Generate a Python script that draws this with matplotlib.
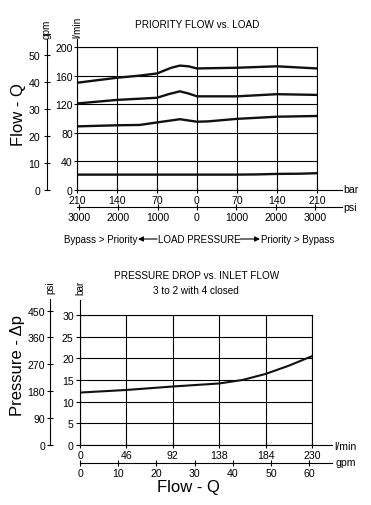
import matplotlib
matplotlib.use("Agg")
import matplotlib.pyplot as plt
from matplotlib.ticker import FuncFormatter

# ---------------- data ----------------
# Chart 1: priority flow (l/min) vs. load pressure (bar, signed: left = bypass>priority)
bar_ticks = [-210, -140, -70, 0, 70, 140, 210]
psi_ticks = [-3000, -2000, -1000, 0, 1000, 2000, 3000]
lpm_ticks1 = [0, 40, 80, 120, 160, 200]
gpm_ticks1 = [0, 10, 20, 30, 40, 50]

c1_x = [-210, -140, -100, -70, -45, -30, -15, 0, 70, 140, 210]
c1_y = [150, 157, 160, 163, 171, 174, 173, 170, 171, 173, 170]
c2_x = [-210, -140, -70, -50, -30, -15, 0, 70, 140, 210]
c2_y = [121, 126, 129, 134, 138, 135, 131, 131, 134, 133]
c3_x = [-210, -140, -100, -70, -30, 0, 20, 70, 140, 210]
c3_y = [89, 90.5, 91, 94.5, 99, 95.5, 96, 99.5, 102.5, 103.5]
c4_x = [-210, -70, 0, 70, 105, 140, 180, 210]
c4_y = [21.5, 21.5, 21.5, 21.5, 21.8, 22.5, 22.8, 23.5]

# Chart 2: pressure drop (bar) vs inlet flow (l/min)
lpm_ticks2 = [0, 46, 92, 138, 184, 230]
gpm_ticks2 = [0, 10, 20, 30, 40, 50, 60]
bar_ticks2 = [0, 5, 10, 15, 20, 25, 30]
psi_ticks2 = [0, 90, 180, 270, 360, 450]
pd_x = [0, 46, 92, 138, 161, 184, 207, 230]
pd_y = [12.1, 12.7, 13.5, 14.2, 15.0, 16.4, 18.3, 20.5]

BAR2PSI = 14.5038
GPM2LPM = 3.785

# ---------------- style ----------------
SANS = ["Liberation Sans", "DejaVu Sans"]
plt.rcParams["font.family"] = SANS
FS = 7.6
FT = 7.2

W, H = 371, 506
fig = plt.figure(figsize=(W / 100, H / 100), dpi=100)
fig.patch.set_facecolor("white")


def rect(l, t, r, b):
    return [l / W, 1 - b / H, (r - l) / W, (b - t) / H]


def ftext(x, y, s, **kw):
    kw.setdefault("fontsize", FS)
    fig.text(x / W, 1 - y / H, s, **kw)


absfmt = FuncFormatter(lambda v, p: f"{abs(v):g}")

# =============== Chart 1 ===============
L1, R1, T1, B1 = 77, 317, 48, 191
ax1 = fig.add_axes(rect(L1, T1, R1, B1))
ax1.set_xlim(-210, 210)
ax1.set_ylim(0, 200)
for xs, ys in [(c1_x, c1_y), (c2_x, c2_y), (c3_x, c3_y), (c4_x, c4_y)]:
    ax1.plot(xs, ys, color="#111111", lw=1.7, solid_capstyle="butt",
             solid_joinstyle="round")
ax1.set_xticks(bar_ticks)
ax1.xaxis.set_major_formatter(absfmt)
ax1.set_yticks(lpm_ticks1)
ax1.grid(True, color="black", lw=0.8)
ax1.set_axisbelow(True)
for s in ax1.spines.values():
    s.set_linewidth(0.8)
ax1.spines["left"].set_bounds(0, 211)
ax1.spines["bottom"].set_bounds(-210, 254)
ax1.tick_params(axis="y", direction="out", length=2.5, pad=0.6, labelsize=FS, width=0.8)
ax1.tick_params(axis="x", direction="inout", length=5, pad=1.2, labelsize=FS, width=0.8)

# gpm axis (left, outer)
gpm_top_lpm = (B1 - 40) / (B1 - T1) * 200
axg = fig.add_axes(rect(47, 40, 47.01, B1))
axg.set_ylim(0, gpm_top_lpm / GPM2LPM)
axg.set_yticks(gpm_ticks1)
axg.set_xticks([])
for k in ["top", "right", "bottom"]:
    axg.spines[k].set_visible(False)
axg.spines["left"].set_linewidth(0.8)
axg.patch.set_visible(False)
axg.tick_params(axis="y", direction="inout", length=5, pad=2.5, labelsize=FS, width=0.8)

# psi axis (bottom, second)
axp = fig.add_axes(rect(L1, 207.5, R1, 207.51))
axp.set_xlim(-210 * BAR2PSI, 210 * BAR2PSI)
axp.set_xticks(psi_ticks)
axp.xaxis.set_major_formatter(absfmt)
axp.set_yticks([])
for k in ["top", "right", "left"]:
    axp.spines[k].set_visible(False)
axp.spines["bottom"].set_linewidth(0.8)
axp.spines["bottom"].set_bounds(-210 * BAR2PSI, 254 * BAR2PSI)
axp.patch.set_visible(False)
axp.tick_params(axis="x", direction="inout", length=5, pad=1.2, labelsize=FS, width=0.8)

ftext(197, 25, "PRIORITY FLOW vs. LOAD", ha="center", va="center", fontsize=FT)
ftext(47, 29, "gpm", rotation=90, ha="center", va="center", fontsize=FT)
ftext(77, 27, "l/min", rotation=90, ha="center", va="center", fontsize=FT)
ftext(343, 190, "bar", ha="left", va="center")
ftext(343, 208, "psi", ha="left", va="center")
ftext(18, 115, "Flow - Q", rotation=90, ha="center", va="center", fontsize=12)

ftext(137, 240, "Bypass > Priority", ha="right", va="center", fontsize=7.0)
ftext(199, 240, "LOAD PRESSURE", ha="center", va="center", fontsize=7.0)
ftext(261, 240, "Priority > Bypass", ha="left", va="center", fontsize=7.0)
for x0, x1 in [(157, 138), (240, 260)]:
    fig.add_artist(matplotlib.patches.FancyArrowPatch(
        (x0 / W, 1 - 240 / H), (x1 / W, 1 - 240 / H), transform=fig.transFigure,
        arrowstyle="-|>,head_length=3,head_width=1.5", lw=0.8, color="black",
        shrinkA=0, shrinkB=0, mutation_scale=1))

# =============== Chart 2 ===============
L2, R2, T2, B2 = 80, 312, 316, 446
ax2 = fig.add_axes(rect(L2, T2, R2, B2))
ax2.set_xlim(0, 230)
ax2.set_ylim(0, 30)
ax2.plot(pd_x, pd_y, color="#111111", lw=1.5, solid_joinstyle="round")
ax2.set_xticks(lpm_ticks2)
ax2.set_yticks(bar_ticks2)
ax2.grid(True, color="black", lw=0.8)
ax2.set_axisbelow(True)
for s in ax2.spines.values():
    s.set_linewidth(0.8)
ax2.spines["left"].set_bounds(0, 33.5)
ax2.spines["bottom"].set_bounds(0, 250)
ax2.tick_params(axis="y", direction="out", length=3, pad=1.5, labelsize=FS, width=0.8)
ax2.tick_params(axis="x", direction="inout", length=5, pad=0.8, labelsize=FS, width=0.8)

# psi axis (left, outer)
psi_top = (B2 - 300) / (B2 - T2) * 30 * BAR2PSI
axq = fig.add_axes(rect(50, 300, 50.01, B2))
axq.set_ylim(0, psi_top)
axq.set_yticks(psi_ticks2)
axq.set_xticks([])
for k in ["top", "right", "bottom"]:
    axq.spines[k].set_visible(False)
axq.spines["left"].set_linewidth(0.8)
axq.patch.set_visible(False)
axq.tick_params(axis="y", direction="inout", length=5, pad=1.0, labelsize=FS, width=0.8)

# gpm axis (bottom, second)
axh = fig.add_axes(rect(L2, 464, R2, 464.01))
axh.set_xlim(0, 230 / GPM2LPM)
axh.set_xticks(gpm_ticks2)
axh.set_yticks([])
for k in ["top", "right", "left"]:
    axh.spines[k].set_visible(False)
axh.spines["bottom"].set_linewidth(0.8)
axh.spines["bottom"].set_bounds(0, 250 / GPM2LPM)
axh.patch.set_visible(False)
axh.tick_params(axis="x", direction="inout", length=5, pad=0.8, labelsize=FS, width=0.8)

ftext(197, 276, "PRESSURE DROP vs. INLET FLOW", ha="center", va="center", fontsize=FT)
ftext(196, 291, "3 to 2 with 4 closed", ha="center", va="center", fontsize=FT)
ftext(50, 288, "psi", rotation=90, ha="center", va="center", fontsize=FT)
ftext(80, 288, "bar", rotation=90, ha="center", va="center", fontsize=FT)
ftext(334, 447, "l/min", ha="left", va="center")
ftext(336, 463, "gpm", ha="left", va="center")
ftext(18, 365, "Pressure - Δp", rotation=90, ha="center", va="center", fontsize=12)
ftext(188, 488, "Flow - Q", ha="center", va="center", fontsize=12)

fig.savefig("out.png", dpi=100, facecolor="white")
